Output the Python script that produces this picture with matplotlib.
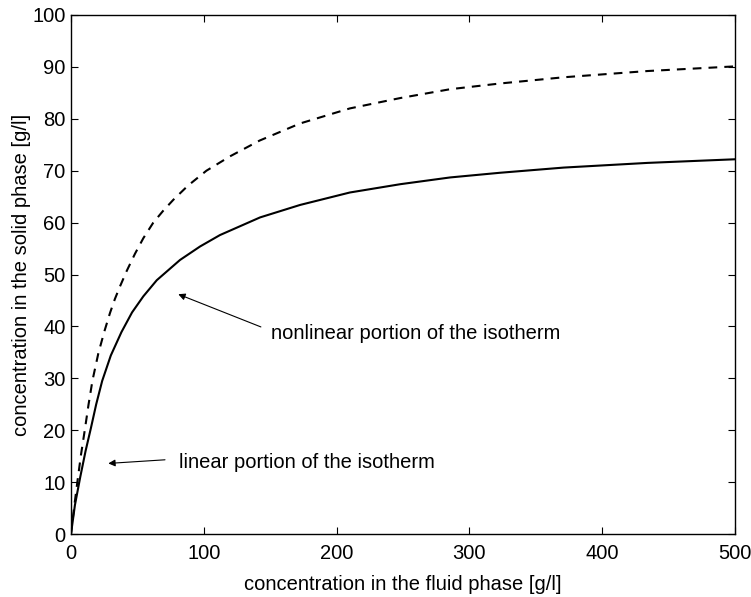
import matplotlib
matplotlib.use('Agg')
import matplotlib.pyplot as plt

# Werte
c_solid = [0, 3, 7, 11, 15, 19, 23.5, 30, 38, 46, 54.5, 64.6, 82.1, 97.2, 112.2,
           142.4, 172.5, 210, 248, 285.5, 323, 371, 434, 500]
q_solid = [0, 5.6, 11, 16, 20.4, 25, 29.5, 34.4, 38.9, 42.7, 45.8, 48.9, 52.8, 55.4,
           57.6, 61.0, 63.4, 65.8, 67.4, 68.7, 69.6, 70.6, 71.5, 72.2]

c_dashed = [0, 2.3, 4.8, 7.5, 10.5, 13.2, 16.2, 20.6, 25.1, 29.4, 33.1, 36.9, 42,
            48.2, 54.5, 62, 69.5, 77.1, 88, 102, 120, 142, 172.5, 210, 248, 285.5,
            323, 371, 434, 500]
q_dashed = [0, 5, 10, 15.2, 20.2, 24.9, 29.6, 34.8, 39.0, 42.6, 45.3, 47.7, 50.7,
            54.0, 57.0, 60.0, 62.3, 64.4, 67.1, 70.0, 72.8, 75.8, 79.1, 82.0, 84.0,
            85.7, 86.8, 88.0, 89.2, 90.1]

x_ticks = [0, 100, 200, 300, 400, 500]
y_ticks = [0, 10, 20, 30, 40, 50, 60, 70, 80, 90, 100]

plt.rcParams['font.family'] = ['Liberation Sans', 'DejaVu Sans']
fs = 14.5

fig = plt.figure(figsize=(7.51, 5.97), dpi=100)
ax = fig.add_axes([0.0945, 0.1055, 0.8842, 0.8694])

ax.plot(c_solid, q_solid, color='black', lw=1.5)
ax.plot(c_dashed, q_dashed, color='black', lw=1.5, linestyle=(0, (4.2, 3.4)))

ax.set_xlim(0, 500)
ax.set_ylim(0, 100)
ax.set_xticks(x_ticks)
ax.set_yticks(y_ticks)
ax.tick_params(direction='in', length=5, top=True, right=True, labelsize=fs)
ax.tick_params(axis='x', pad=7)
ax.tick_params(axis='y', pad=4)

ax.set_xlabel('concentration in the fluid phase [g/l]', fontsize=fs, labelpad=9)
ax.set_ylabel('concentration in the solid phase [g/l]', fontsize=fs, labelpad=1)

# Anmerkungen mit Pfeilen
arrow = dict(arrowstyle='-|>', color='black', lw=0.8, mutation_scale=10, shrinkA=0, shrinkB=0)
ax.annotate('', xy=(80.8, 46.2), xytext=(143, 39.9), arrowprops=arrow)
ax.text(150.4, 38.7, 'nonlinear portion of the isotherm', fontsize=fs, va='center', ha='left')
ax.annotate('', xy=(28.1, 13.6), xytext=(70.8, 14.3), arrowprops=arrow)
ax.text(81, 13.7, 'linear portion of the isotherm', fontsize=fs, va='center', ha='left')

for s in ax.spines.values():
    s.set_linewidth(1.0)

fig.savefig('out.png', dpi=100)
